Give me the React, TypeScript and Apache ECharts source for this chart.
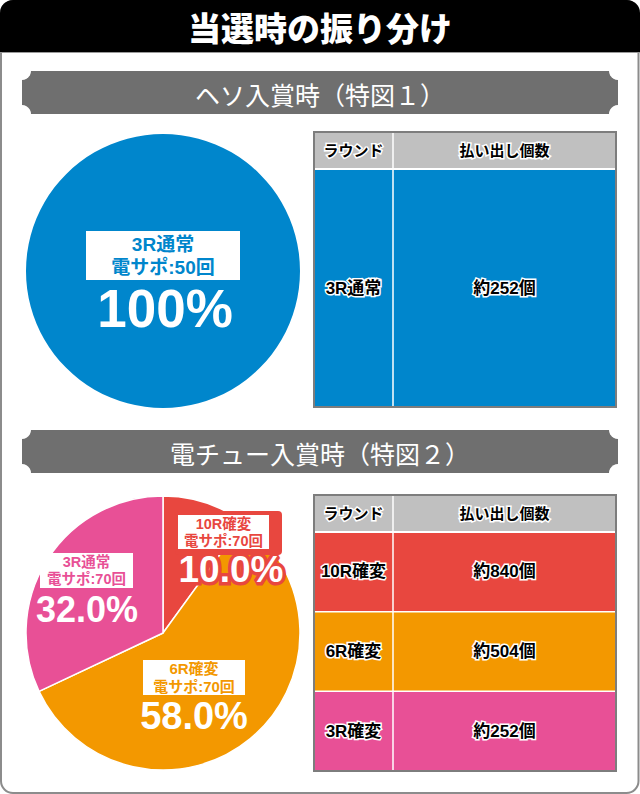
import React, { useEffect, useRef } from 'react';
import * as echarts from 'echarts';

// ---------- data ----------
const TITLE = '当選時の振り分け';
const SECTION_TITLES = ['ヘソ入賞時（特図１）', '電チュー入賞時（特図２）'];
const TABLE_HEADERS = ['ラウンド', '払い出し個数'];

const HESO_CATEGORIES = ['3R通常'];
const HESO_SHARES = [100];
const HESO_SAPO = [50];
const HESO_ROUNDS = ['3R通常'];
const HESO_PAYOUTS = [252];

const DENCHU_CATEGORIES = ['10R確変', '6R確変', '3R通常'];
const DENCHU_SHARES = [10, 58, 32];
const DENCHU_SAPO = [70, 70, 70];
const DENCHU_ROUNDS = ['10R確変', '6R確変', '3R確変'];
const DENCHU_PAYOUTS = [840, 504, 252];

// ---------- styles / layout ----------
const HESO_COLORS = ['#0086cc'];
const DENCHU_COLORS = ['#e8473f', '#f39800', '#e85096'];

const FONT = "'Liberation Sans', 'Noto Sans CJK JP', sans-serif";
const CJK = "'Noto Sans CJK JP', sans-serif";

const PIE_R = 137;
const PIE1_CENTER = [163, 271];
const PIE2_CENTER = [163, 633];

const HESO_LABEL = [{ box: [86, 231, 154, 49], fs: 19, lh: 23, pct: [165, 308], pfs: 53 }];
const DENCHU_LABEL = [
  { box: [178, 515, 91, 34], fs: 14.5, lh: 17, pct: [231, 569], pfs: 37, outline: [175, 511, 107, 44] },
  { box: [143, 660, 102, 35], fs: 15, lh: 17.5, pct: [194, 716], pfs: 38 },
  { box: [40, 553, 93, 35], fs: 14.5, lh: 17, pct: [87, 609], pfs: 36 },
];

const TABLE1 = { x: 314, y: 132, w: 302, headH: 37, rowH: 238, col: 79 };
const TABLE2 = { x: 314, y: 495, w: 302, headH: 37, rowH: 79.67, col: 79 };

const BANNERS = [
  { y: 71, h: 43 },
  { y: 430, h: 43 },
];

function fmtPct(v: number) {
  return v === 100 ? '100%' : v.toFixed(1) + '%';
}

function pieLabels(categories: string[], shares: number[], sapo: number[], colors: string[], layouts: any[]) {
  const els: any[] = [];
  categories.forEach((name, i) => {
    const L = layouts[i];
    if (L.outline) {
      els.push({
        type: 'rect', z: 10,
        shape: { x: L.outline[0], y: L.outline[1], width: L.outline[2], height: L.outline[3], r: 4 },
        style: { fill: colors[i] },
      });
    }
    els.push({
      type: 'rect', z: 11,
      shape: { x: L.box[0], y: L.box[1], width: L.box[2], height: L.box[3] },
      style: { fill: '#ffffff' },
    });
    els.push({
      type: 'text', z: 12,
      x: L.box[0] + L.box[2] / 2, y: L.box[1] + L.box[3] / 2,
      style: {
        text: `${name}\n電サポ:${sapo[i]}回`,
        align: 'center', verticalAlign: 'middle',
        fill: colors[i], fontSize: L.fs, fontWeight: 'bold', fontFamily: FONT, lineHeight: L.lh,
      },
    });
    els.push({
      type: 'text', z: 12,
      x: L.pct[0], y: L.pct[1],
      style: {
        text: fmtPct(shares[i]),
        align: 'center', verticalAlign: 'middle',
        fill: '#ffffff', fontSize: L.pfs, fontWeight: 'bold', fontFamily: FONT,
        stroke: L.outline ? colors[i] : 'none', lineWidth: L.outline ? 7 : 0,
      },
    });
  });
  return els;
}

function table(T: any, rounds: string[], payouts: number[], colors: string[]) {
  const els: any[] = [];
  const H = T.headH + T.rowH * rounds.length;
  const c1 = T.x + T.col / 2;
  const c2 = T.x + T.col + (T.w - T.col) / 2;
  els.push({ type: 'rect', z: 1, shape: { x: T.x, y: T.y, width: T.w, height: T.headH }, style: { fill: '#c0c0c0' } });
  const txt = (s: string, x: number, y: number, fs: number) => ({
    type: 'text', z: 4, x, y,
    style: {
      text: s, align: 'center', verticalAlign: 'middle', fill: '#000000',
      fontSize: fs, fontWeight: 'bold', fontFamily: FONT, stroke: '#ffffff', lineWidth: 3,
    },
  });
  els.push(txt(TABLE_HEADERS[0], c1, T.y + T.headH / 2, 15));
  els.push(txt(TABLE_HEADERS[1], c2, T.y + T.headH / 2, 15));
  rounds.forEach((r, i) => {
    const y = T.y + T.headH + i * T.rowH;
    els.push({ type: 'rect', z: 1, shape: { x: T.x, y, width: T.w, height: T.rowH }, style: { fill: colors[i] } });
    els.push(txt(r, c1, y + T.rowH / 2, 17));
    els.push(txt(`約${payouts[i]}個`, c2, y + T.rowH / 2, 17));
  });
  els.push({
    type: 'line', z: 2,
    shape: { x1: T.x + T.col, y1: T.y, x2: T.x + T.col, y2: T.y + H },
    style: { stroke: '#ffffff', lineWidth: 1.5 },
  });
  rounds.forEach((_, i) => {
    const y = T.y + T.headH + i * T.rowH;
    els.push({
      type: 'line', z: 2,
      shape: { x1: T.x, y1: y, x2: T.x + T.w, y2: y },
      style: { stroke: '#ffffff', lineWidth: i === 0 ? 2 : 1.5 },
    });
  });
  els.push({
    type: 'rect', z: 3,
    shape: { x: T.x, y: T.y, width: T.w, height: H },
    style: { fill: 'none', stroke: '#7d7d7d', lineWidth: 2 },
  });
  return els;
}

function banner(b: any, text: string) {
  const x0 = 22, x1 = 618, r = 9;
  const els: any[] = [
    { type: 'rect', z: 1, shape: { x: x0, y: b.y, width: x1 - x0, height: b.h }, style: { fill: '#6f6f6f' } },
  ];
  [[x0, b.y], [x1, b.y], [x0, b.y + b.h], [x1, b.y + b.h]].forEach(([cx, cy]) => {
    els.push({ type: 'circle', z: 2, shape: { cx, cy, r }, style: { fill: '#ffffff' } });
  });
  els.push({
    type: 'text', z: 3, x: 320, y: b.y + b.h / 2 + 1,
    style: { text, align: 'center', verticalAlign: 'middle', fill: '#ffffff', fontSize: 25, fontFamily: CJK, fontWeight: 'normal' },
  });
  return els;
}

export default function App() {
  const ref = useRef<HTMLDivElement>(null);
  useEffect(() => {
    if (!ref.current) return;
    const chart = echarts.init(ref.current, undefined, { renderer: 'svg' });
    const graphic: any[] = [
      {
        type: 'rect', z: 0,
        shape: { x: 1, y: 1, width: 637.5, height: 792, r: 12 },
        style: { fill: '#ffffff', stroke: '#8c8c8c', lineWidth: 2 },
      },
      {
        type: 'rect', z: 1,
        shape: { x: 0, y: 0, width: 640, height: 52, r: [13, 13, 0, 0] },
        style: { fill: '#000000' },
      },
      {
        type: 'line', z: 1,
        shape: { x1: 0, y1: 52.5, x2: 640, y2: 52.5 },
        style: { stroke: '#9a9a9a', lineWidth: 1 },
      },
      {
        type: 'text', z: 2, x: 320, y: 27,
        style: { text: TITLE, align: 'center', verticalAlign: 'middle', fill: '#ffffff', fontSize: 33, fontWeight: 900, fontFamily: CJK },
      },
      ...banner(BANNERS[0], SECTION_TITLES[0]),
      ...banner(BANNERS[1], SECTION_TITLES[1]),
      ...table(TABLE1, HESO_ROUNDS, HESO_PAYOUTS, HESO_COLORS),
      ...table(TABLE2, DENCHU_ROUNDS, DENCHU_PAYOUTS, DENCHU_COLORS),
      ...pieLabels(HESO_CATEGORIES, HESO_SHARES, HESO_SAPO, HESO_COLORS, HESO_LABEL),
      ...pieLabels(DENCHU_CATEGORIES, DENCHU_SHARES, DENCHU_SAPO, DENCHU_COLORS, DENCHU_LABEL),
    ];
    chart.setOption({
      animation: false,
      graphic,
      series: [
        {
          type: 'pie', z: 5, silent: true,
          center: PIE1_CENTER, radius: PIE_R, startAngle: 90, clockwise: true,
          label: { show: false }, labelLine: { show: false },
          emphasis: { disabled: true },
          data: HESO_CATEGORIES.map((n, i) => ({ name: n, value: HESO_SHARES[i], itemStyle: { color: HESO_COLORS[i] } })),
        },
        {
          type: 'pie', z: 5, silent: true,
          center: PIE2_CENTER, radius: PIE_R, startAngle: 90, clockwise: true,
          label: { show: false }, labelLine: { show: false },
          emphasis: { disabled: true },
          itemStyle: { borderColor: '#ffffff', borderWidth: 1.5 },
          data: DENCHU_CATEGORIES.map((n, i) => ({ name: n, value: DENCHU_SHARES[i], itemStyle: { color: DENCHU_COLORS[i] } })),
        },
      ],
    });
    return () => chart.dispose();
  }, []);
  return <div ref={ref} style={{ position: 'absolute', left: 0, top: 0, width: 640, height: 794 }} />;
}
